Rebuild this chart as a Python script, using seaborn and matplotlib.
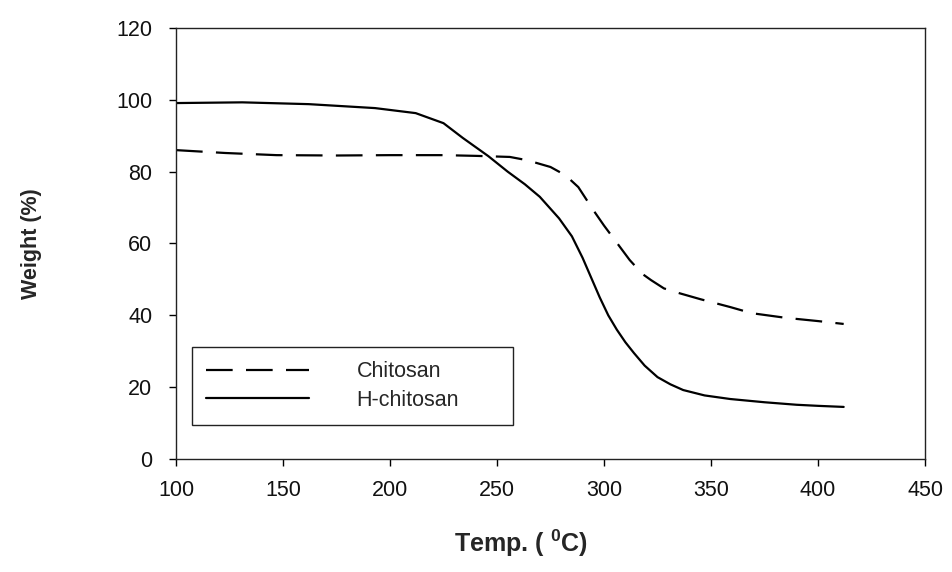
import pandas as pd
import seaborn as sns
import matplotlib.pyplot as plt

# TGA curves
chitosan_T = [100, 123, 147, 175, 200, 225, 240, 256, 264, 275, 282, 288, 295, 300,
              305, 312, 318, 322, 328, 335, 345, 359, 369, 385, 400, 412]
chitosan_W = [86, 85.2, 84.6, 84.5, 84.6, 84.6, 84.4, 84.1, 83.2, 81.3, 79, 75.7, 69.3, 65,
              61, 55.4, 51.5, 49.8, 47.5, 46.2, 44.5, 42.3, 40.6, 39.3, 38.4, 37.6]

hchitosan_T = [100, 131, 162, 193, 212, 225, 234, 246, 255, 263, 270, 279, 285, 290, 294,
               298, 302, 306, 310, 314, 319, 325, 331, 337, 347, 359, 375, 390, 400, 412]
hchitosan_W = [99.1, 99.3, 98.8, 97.7, 96.3, 93.5, 89.4, 84.3, 80, 76.5, 73, 67, 62, 56, 50.5,
               45, 40, 36, 32.5, 29.5, 26, 22.8, 20.8, 19.2, 17.7, 16.7, 15.8, 15.1, 14.8, 14.5]

x_ticks = [100, 150, 200, 250, 300, 350, 400, 450]
y_ticks = [0, 20, 40, 60, 80, 100, 120]

df = pd.concat([
    pd.DataFrame({'T': chitosan_T, 'W': chitosan_W, 'Sample': 'Chitosan'}),
    pd.DataFrame({'T': hchitosan_T, 'W': hchitosan_W, 'Sample': 'H-chitosan'}),
])

sns.set_style('ticks')
plt.rcParams['font.family'] = ['Liberation Sans', 'DejaVu Sans']
plt.rcParams['mathtext.fontset'] = 'custom'
plt.rcParams['mathtext.bf'] = 'Liberation Sans:bold'
plt.rcParams['mathtext.rm'] = 'Liberation Sans'

fig = plt.figure(figsize=(9.52, 5.72), dpi=100)
ax = fig.add_axes([176 / 952, 1 - 459 / 572, (925 - 176) / 952, (459 - 28) / 572])

sns.lineplot(data=df, x='T', y='W', hue='Sample', style='Sample',
             palette={'Chitosan': 'black', 'H-chitosan': 'black'},
             dashes={'Chitosan': (12, 6), 'H-chitosan': ''},
             linewidth=1.6, ax=ax, sort=False)

ax.set_xlim(100, 450)
ax.set_ylim(0, 120)
ax.set_xticks(x_ticks)
ax.set_yticks(y_ticks)
ax.tick_params(labelsize=15.5, length=5, width=1, direction='out', color='black',
               labelcolor='#111111')
ax.tick_params(axis='x', pad=10)
ax.tick_params(axis='y', pad=12)
for s in ax.spines.values():
    s.set_visible(True)
    s.set_color('#222222')
    s.set_linewidth(1)

ax.set_xlabel(r'Temp. ( $^{\mathbf{0}}$C)', fontsize=18, fontweight='bold')
ax.xaxis.set_label_coords(0.461, -0.16)
ax.set_ylabel('Weight (%)', fontsize=15.5, fontweight='bold')
ax.yaxis.set_label_coords(-0.179, 0.5)

leg = ax.legend(loc='lower left', bbox_to_anchor=(0.0214, 0.0789, 0.4286, 0.1856),
                mode='expand', borderaxespad=0, fontsize=15.5, handlelength=4.8,
                handletextpad=2.2, frameon=True, fancybox=False, borderpad=0.65,
                labelspacing=0.35)
leg.get_frame().set_edgecolor('#222222')
leg.get_frame().set_linewidth(1)
leg.get_frame().set_alpha(1)

fig.savefig('out.png', dpi=100)
